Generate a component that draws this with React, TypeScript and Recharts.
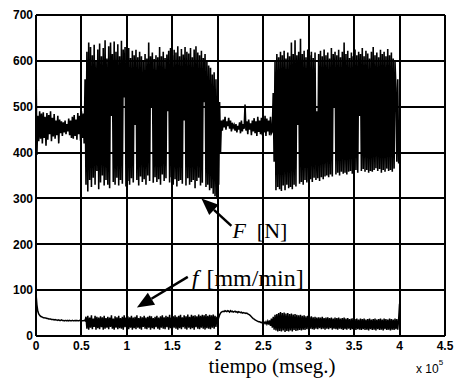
import { LineChart, Line, XAxis, YAxis, CartesianGrid, ReferenceLine } from 'recharts';

// sample step on the time axis (units of 10^5 ms)
const DT = 0.01;

const timeTicks = [0, 0.5, 1, 1.5, 2, 2.5, 3, 3.5, 4, 4.5];
const forceTicks = [0, 100, 200, 300, 400, 500, 600, 700];

// F [N], one value per sample from t = 0 to t = 4
const force = [
  590, 395, 480, 425, 490, 430, 485, 420, 488, 432,
  478, 415, 486, 428, 482, 440, 490, 425, 476, 435,
  484, 430, 470, 438, 480, 420, 472, 442, 468, 436,
  466, 444, 470, 440, 462, 446, 474, 438, 470, 432,
  478, 430, 482, 436, 472, 428, 486, 440, 480, 426,
  490, 432, 485, 420, 560, 330, 620, 315, 640, 340,
  630, 325, 612, 345, 635, 330, 600, 360, 625, 320,
  638, 335, 610, 350, 628, 328, 645, 340, 605, 330,
  632, 322, 640, 480, 615, 336, 642, 330, 620, 345,
  636, 328, 610, 340, 644, 332, 625, 520, 630, 326,
  618, 338, 628, 330, 606, 344, 622, 335, 612, 460,
  624, 340, 608, 328, 620, 348, 610, 336, 600, 342,
  615, 330, 605, 350, 640, 338, 610, 500, 618, 334,
  604, 346, 612, 336, 608, 342, 630, 330, 610, 352,
  620, 338, 606, 344, 614, 490, 622, 335, 628, 346,
  612, 330, 624, 342, 618, 326, 632, 338, 610, 340,
  626, 332, 614, 470, 630, 328, 620, 344, 616, 330,
  628, 336, 608, 340, 625, 322, 632, 338, 618, 345,
  612, 328, 622, 334, 606, 510, 615, 325, 600, 330,
  590, 318, 585, 322, 570, 310, 575, 305, 560, 300,
  540, 330, 510, 400, 470, 448, 472, 455, 478, 450,
  468, 458, 476, 452, 470, 446, 465, 455, 460, 448,
  462, 444, 458, 450, 466, 442, 470, 446, 462, 452,
  505, 448, 468, 440, 472, 450, 464, 438, 470, 446,
  475, 442, 468, 436, 478, 445, 470, 440, 476, 438,
  472, 444, 480, 436, 474, 446, 470, 438, 478, 442,
  446, 530, 380, 600, 318, 615, 325, 608, 320, 620,
  316, 612, 328, 622, 318, 605, 330, 618, 322, 610,
  325, 640, 320, 615, 330, 645, 326, 612, 460, 620,
  332, 648, 336, 615, 330, 622, 340, 608, 335, 625,
  338, 612, 342, 620, 336, 606, 345, 618, 340, 490,
  344, 615, 338, 622, 346, 610, 342, 625, 348, 612,
  350, 618, 346, 605, 352, 628, 348, 615, 500, 620,
  352, 612, 356, 624, 350, 608, 358, 620, 354, 640,
  356, 615, 352, 622, 358, 606, 360, 618, 354, 610,
  358, 625, 362, 612, 356, 620, 480, 615, 360, 628,
  364, 610, 358, 622, 362, 616, 356, 605, 360, 620,
  358, 630, 362, 612, 366, 618, 360, 608, 364, 624,
  356, 615, 362, 620, 358, 610, 365, 626, 360, 612,
  362, 618, 358, 605, 365, 598, 540, 380, 560, 376,
  450,
];

// f [mm/min], same samples
const feed = [
  92, 68, 54, 48, 45, 43, 42, 41, 40, 40,
  39, 39, 38, 38, 37, 37, 37, 36, 36, 36,
  35, 36, 35, 35, 34, 35, 34, 34, 35, 34,
  34, 33, 34, 34, 33, 34, 33, 34, 33, 33,
  34, 33, 33, 34, 33, 34, 33, 33, 34, 33,
  34, 33, 33, 34, 33, 42, 16, 44, 14, 40,
  18, 45, 15, 38, 20, 44, 14, 42, 17, 40,
  15, 43, 19, 41, 14, 44, 16, 39, 18, 42,
  15, 40, 20, 45, 16, 38, 14, 43, 18, 41,
  15, 44, 17, 39, 16, 42, 14, 45, 19, 40,
  16, 43, 15, 41, 18, 44, 14, 40, 17, 42,
  15, 45, 18, 39, 16, 43, 14, 41, 20, 44,
  16, 40, 15, 42, 18, 44, 14, 43, 17, 39,
  15, 42, 19, 44, 16, 40, 14, 43, 18, 45,
  16, 41, 15, 44, 19, 42, 14, 46, 17, 40,
  15, 43, 18, 45, 16, 42, 14, 44, 17, 46,
  15, 41, 19, 45, 16, 43, 14, 47, 18, 42,
  15, 46, 17, 44, 14, 45, 19, 43, 16, 47,
  15, 44, 18, 46, 16, 45, 14, 48, 17, 44,
  16, 46, 15, 45, 18, 47, 16, 44, 20, 42,
  34, 40, 46, 50, 52, 53, 54, 53, 55, 54,
  53, 55, 54, 52, 55, 53, 54, 52, 53, 54,
  52, 53, 51, 53, 52, 51, 52, 50, 51, 50,
  50, 49, 50, 48, 47, 46, 44, 42, 40, 38,
  37, 35, 34, 33, 32, 31, 31, 30, 29, 30,
  28, 30, 27, 31, 26, 32, 25, 34, 22, 38,
  18, 42, 14, 46, 12, 48, 10, 50, 11, 52,
  10, 50, 12, 51, 9, 49, 11, 50, 10, 48,
  12, 49, 10, 47, 13, 48, 11, 46, 12, 45,
  13, 46, 12, 44, 14, 45, 13, 43, 15, 44,
  14, 42, 16, 43, 15, 41, 14, 42, 16, 40,
  15, 41, 17, 40, 15, 42, 16, 39, 14, 40,
  16, 41, 15, 39, 17, 40, 14, 38, 16, 40,
  15, 39, 14, 40, 16, 38, 15, 39, 13, 40,
  15, 38, 14, 39, 16, 37, 13, 38, 15, 39,
  14, 37, 13, 38, 15, 36, 14, 38, 13, 37,
  15, 38, 13, 36, 14, 37, 12, 38, 15, 36,
  13, 37, 14, 38, 12, 36, 15, 37, 13, 38,
  14, 36, 12, 38, 15, 37, 13, 36, 14, 38,
  12, 37, 14, 36, 13, 38, 15, 37, 14, 36,
  70,
];

const rows = force.map((F, i) => ({ t: +(i * DT).toFixed(2), F, f: feed[i] }));

const serif = '"Liberation Serif", "Times New Roman", serif';
const sans = '"Liberation Sans", Arial, sans-serif';

// arrow pointing at (x2,y2), with its caption hung off the tail
const arrowWithLabel = (label: any, dx: number, dy: number, size: number) => (props: any) => {
  const { x1, y1, x2, y2 } = props;
  const len = Math.hypot(x2 - x1, y2 - y1) || 1;
  const ux = (x2 - x1) / len;
  const uy = (y2 - y1) / len;
  const bx = x2 - ux * 17;
  const by = y2 - uy * 17;
  const head = `${x2},${y2} ${bx - uy * 7},${by + ux * 7} ${bx + uy * 7},${by - ux * 7}`;
  return (
    <g>
      <line x1={x1} y1={y1} x2={bx} y2={by} stroke="#000" strokeWidth={2.5} />
      <polygon points={head} fill="#000" />
      <text x={x1 + dx} y={y1 + dy} fontFamily={serif} fontSize={size} fill="#000">
        {label}
      </text>
    </g>
  );
};

const forceLabel = (
  <>
    <tspan fontStyle="italic">F</tspan>
    <tspan dx={11}>[N]</tspan>
  </>
);

const feedLabel = (
  <>
    <tspan fontStyle="italic">f</tspan>
    <tspan dx={8}>[mm/min]</tspan>
  </>
);

export default function App() {
  return (
    <div style={{ position: 'absolute', left: 0, top: 0, background: '#fff' }}>
      <LineChart width={456} height={378} data={rows} margin={{ top: 15, right: 11, bottom: 0, left: 0 }}>
        <CartesianGrid stroke="#000" strokeOpacity={1} strokeWidth={2} shapeRendering="crispEdges" />
        <XAxis
          dataKey="t"
          type="number"
          domain={[0, 4.5]}
          ticks={timeTicks}
          height={42}
          tickSize={0}
          tickMargin={5}
          axisLine={{ stroke: '#000', strokeWidth: 2 }}
          tick={{ fill: '#000', fontSize: 12, fontWeight: 'bold', fontFamily: sans }}
        />
        <YAxis
          type="number"
          domain={[0, 700]}
          ticks={forceTicks}
          width={36}
          tickSize={0}
          tickMargin={3}
          axisLine={{ stroke: '#000', strokeWidth: 2 }}
          tick={{ fill: '#000', fontSize: 12, fontWeight: 'bold', fontFamily: sans }}
        />
        <Line dataKey="F" type="linear" stroke="#000" strokeWidth={1.6} dot={false} isAnimationActive={false} />
        <Line dataKey="f" type="linear" stroke="#000" strokeWidth={1.5} dot={false} isAnimationActive={false} />
        <ReferenceLine
          segment={[{ x: 2.15, y: 240 }, { x: 1.82, y: 300 }]}
          shape={arrowWithLabel(forceLabel, 1, 12, 22)}
        />
        <ReferenceLine
          segment={[{ x: 1.67, y: 129 }, { x: 1.11, y: 62 }]}
          shape={arrowWithLabel(feedLabel, 4, 9, 24)}
        />
        <text x={272} y={373} textAnchor="middle" fontFamily={serif} fontSize={21} fill="#000">
          tiempo (mseg.)
        </text>
        <text x={416} y={373} fontFamily={sans} fontSize={12} fill="#000">
          x 10<tspan dy={-8} fontSize={8}>5</tspan>
        </text>
      </LineChart>
    </div>
  );
}
